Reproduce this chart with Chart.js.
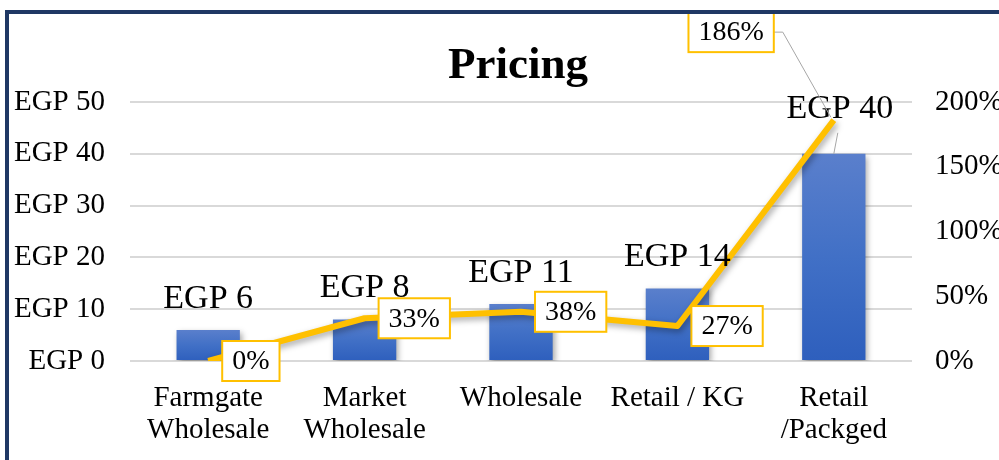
<!DOCTYPE html>
<html>
<head>
<meta charset="utf-8">
<script src="https://cdn.jsdelivr.net/npm/chart.js@4/dist/chart.umd.min.js"></script>
<style>
  html, body { margin: 0; padding: 0; background: #fff; }
  #wrap { position: relative; width: 999px; height: 460px; overflow: hidden; }
  #frame { position: absolute; left: 5px; top: 10px; width: 1010px; height: 470px;
           border: 4px solid #1f3864; pointer-events: none; }
</style>
</head>
<body>
<div id="wrap">
  <canvas id="chart-1" width="999" height="460"></canvas>
  <div id="frame"></div>
</div>
<script>
// ====== data ======
const categories = [['Farmgate', 'Wholesale'], ['Market', 'Wholesale'], 'Wholesale', 'Retail / KG', ['Retail', '/Packged']];
const prices = [6, 8, 11, 14, 40];     // EGP per unit
const markups = [0, 33, 38, 27, 186];  // % markup
const priceTicks = [0, 10, 20, 30, 40, 50];
const markupTicks = [0, 50, 100, 150, 200];

const FONT = '"Liberation Serif", "Times New Roman", serif';

// shadow under bars and line
const shadowPlugin = {
  id: 'shadow',
  beforeDatasetDraw(chart) {
    const c = chart.ctx;
    c.save();
    c.shadowColor = 'rgba(0,0,0,0.35)';
    c.shadowBlur = 6;
    c.shadowOffsetX = 2;
    c.shadowOffsetY = 3;
  },
  afterDatasetDraw(chart) {
    chart.ctx.restore();
  }
};

// title + data labels (bar labels first, then the boxed % labels)
const labelPlugin = {
  id: 'labels',
  afterDatasetsDraw(chart) {
    const c = chart.ctx;
    const area = chart.chartArea;
    c.save();

    // title
    c.fillStyle = '#000';
    c.font = 'bold 45px ' + FONT;
    c.textAlign = 'center';
    c.textBaseline = 'alphabetic';
    c.fillText('Pricing', (area.left + area.right) / 2 - 3, 78);

    // bar value labels
    const bars = chart.getDatasetMeta(0).data;
    c.font = '34px ' + FONT;
    c.textBaseline = 'middle';
    bars.forEach((bar, i) => {
      let x = bar.x, y = bar.y - 31;
      if (i === bars.length - 1) {
        // moved up, with a leader line
        x = bar.x + 6; y = bar.y - 45;
        c.strokeStyle = '#a6a6a6';
        c.lineWidth = 1;
        c.beginPath();
        c.moveTo(bar.x + 4, bar.y - 21);
        c.lineTo(bar.x, bar.y);
        c.stroke();
      }
      c.fillStyle = '#000';
      c.fillText('EGP ' + prices[i], x, y);
    });

    // markup labels in yellow boxes
    const pts = chart.getDatasetMeta(1).data;
    c.font = '28px ' + FONT;
    c.textAlign = 'left';
    pts.forEach((pt, i) => {
      const txt = markups[i] + '%';
      const w = c.measureText(txt).width + 20;
      const h = 40;
      let bx = pt.x + 14, cy = pt.y;
      if (i === pts.length - 1) {
        bx = pt.x - 60 - w; cy = pt.y - 88;
        c.strokeStyle = '#a6a6a6';
        c.lineWidth = 1;
        c.beginPath();
        c.moveTo(bx + w, cy);
        c.lineTo(bx + w + 9, cy);
        c.lineTo(pt.x - 3, pt.y - 3);
        c.stroke();
      }
      c.fillStyle = '#fff';
      c.fillRect(bx, cy - h / 2, w, h);
      c.strokeStyle = '#ffc000';
      c.lineWidth = 2;
      c.strokeRect(bx, cy - h / 2, w, h);
      c.fillStyle = '#000';
      c.fillText(txt, bx + 10, cy + 1);
    });

    c.restore();
  }
};

function barGradient(context) {
  const chart = context.chart;
  if (!chart.chartArea || context.raw === undefined) return '#4472c4';
  const ys = chart.scales.y;
  const top = ys.getPixelForValue(context.raw);
  const bottom = ys.getPixelForValue(0);
  const g = chart.ctx.createLinearGradient(0, top, 0, bottom);
  g.addColorStop(0, '#5a7fcc');
  g.addColorStop(0.5, '#4170c6');
  g.addColorStop(1, '#2e5fbd');
  return g;
}

const ctx1 = document.getElementById('chart-1');

new Chart(ctx1, {
  data: {
    labels: categories,
    datasets: [
      {
        type: 'bar',
        label: 'Price',
        data: prices,
        yAxisID: 'y',
        backgroundColor: barGradient,
        borderWidth: 0,
        categoryPercentage: 1,
        barPercentage: 0.405,
        order: 2
      },
      {
        type: 'line',
        label: 'Markup',
        data: markups,
        yAxisID: 'y1',
        borderColor: '#ffc000',
        borderWidth: 6,
        pointRadius: 0,
        tension: 0,
        borderJoinStyle: 'round',
        order: 1
      }
    ]
  },
  options: {
    responsive: false,
    animation: false,
    layout: { padding: { top: 102, left: 0, right: 0, bottom: 0 } },
    plugins: {
      legend: { display: false },
      title: { display: false },
      tooltip: { enabled: false }
    },
    scales: {
      x: {
        grid: { display: false, drawTicks: false },
        border: { display: false },
        ticks: { color: '#000', font: { family: FONT, size: 29, lineHeight: 1.12 }, padding: 21, maxRotation: 0, autoSkip: false },
        afterFit(scale) { scale.height = 99; }
      },
      y: {
        position: 'left',
        min: priceTicks[0],
        max: priceTicks[priceTicks.length - 1],
        afterBuildTicks(scale) { scale.ticks = priceTicks.map(v => ({ value: v })); },
        grid: { color: '#d9d9d9', lineWidth: 2, drawTicks: false },
        border: { display: false },
        ticks: { color: '#000', font: { family: FONT, size: 29 }, padding: 25, callback: v => 'EGP ' + v },
        afterFit(scale) { scale.width = 130; }
      },
      y1: {
        position: 'right',
        min: markupTicks[0],
        max: markupTicks[markupTicks.length - 1],
        afterBuildTicks(scale) { scale.ticks = markupTicks.map(v => ({ value: v })); },
        grid: { display: false, drawTicks: false },
        border: { display: false },
        ticks: { color: '#000', font: { family: FONT, size: 29 }, padding: 23, callback: v => v + '%' },
        afterFit(scale) { scale.width = 87; }
      }
    }
  },
  plugins: [shadowPlugin, labelPlugin]
});
</script>
</body>
</html>
